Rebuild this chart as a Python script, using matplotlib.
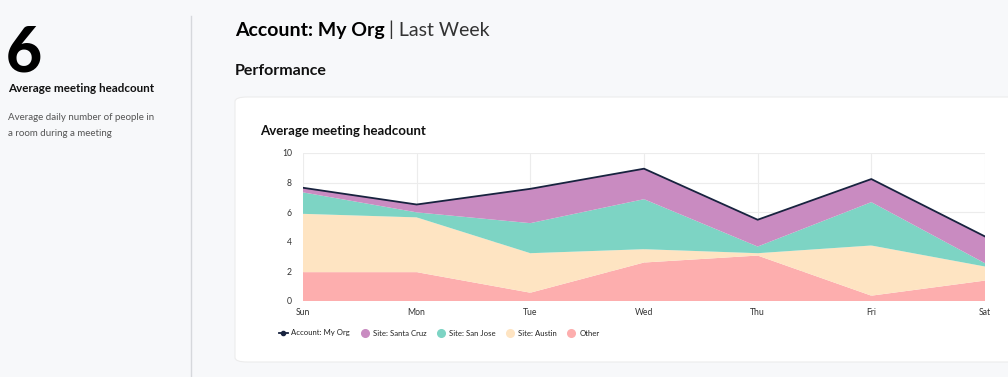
import matplotlib
matplotlib.use('Agg')
import matplotlib.pyplot as plt
from matplotlib.patches import FancyBboxPatch
from matplotlib.lines import Line2D

W, H = 1008, 377

days = ['Sun', 'Mon', 'Tue', 'Wed', 'Thu', 'Fri', 'Sat']
other = [1.95, 1.95, 0.56, 2.60, 3.07, 0.36, 1.38]
austin = [3.94, 3.70, 2.67, 0.90, 0.16, 3.39, 0.95]
san_jose = [1.45, 0.34, 2.03, 3.38, 0.45, 2.93, 0.22]
santa_cruz = [0.31, 0.54, 2.32, 2.06, 1.81, 1.56, 1.81]
account_total = [7.65, 6.52, 7.58, 8.94, 5.49, 8.24, 4.36]

c_other = '#fdaeae'
c_austin = '#fee4c2'
c_sanjose = '#7dd4c4'
c_santacruz = '#c98bc1'
c_account = '#18233f'

plt.rcParams['font.family'] = ['Lato', 'DejaVu Sans']


def fx(px):
    return px / W


def fy(py):
    return 1 - py / H


fig = plt.figure(figsize=(W / 100, H / 100), dpi=100)
fig.patch.set_facecolor('#f7f8fa')

# left summary panel
fig.text(fx(6), fy(72), '6', fontsize=45, fontweight='black', color='#000000')
fig.text(fx(8), fy(92), 'Average meeting headcount', fontsize=8.4,
         fontweight='bold', color='#111111')
fig.text(fx(8), fy(120), 'Average daily number of people in', fontsize=7,
         color='#555555')
fig.text(fx(8), fy(136), 'a room during a meeting', fontsize=7,
         color='#555555')
fig.add_artist(Line2D([fx(191), fx(191)], [fy(16), fy(377)],
                      color='#d6d8dc', lw=1))

# header
t = fig.text(fx(235), fy(36), 'Account: My Org', fontsize=14,
             fontweight='bold', color='#000000')
fig.canvas.draw()
bb = t.get_window_extent()
fig.text(bb.x1 / W + fx(4), fy(36), '| Last Week', fontsize=14,
         fontweight='normal', color='#333333')
fig.text(fx(235), fy(75), 'Performance', fontsize=11.5, fontweight='bold',
         color='#111111')

# card
card = FancyBboxPatch((fx(235), fy(362)), fx(800), fy(97) - fy(362),
                      boxstyle='round,pad=0,rounding_size=0.012',
                      transform=fig.transFigure, facecolor='white',
                      edgecolor='#ececec', lw=0.8, zorder=0)
fig.add_artist(card)
fig.text(fx(260), fy(135), 'Average meeting headcount', fontsize=9.5,
         fontweight='bold', color='#111111')

ax = fig.add_axes([fx(303), fy(301), fx(985 - 303), fy(153) - fy(301)])
ax.set_facecolor('white')
x = range(len(days))
ax.stackplot(x, other, austin, san_jose, santa_cruz,
             colors=[c_other, c_austin, c_sanjose, c_santacruz], lw=0, zorder=2)
ax.plot(x, account_total, color=c_account, lw=1.3, zorder=3)

ax.set_xlim(0, 6)
ax.set_ylim(0, 10)
ax.set_xticks(list(x))
ax.set_xticklabels(days)
ax.set_yticks([0, 2, 4, 6, 8, 10])
ax.grid(True, color='#ececec', lw=0.8, zorder=0)
ax.set_axisbelow(True)
for s in ax.spines.values():
    s.set_visible(False)
ax.tick_params(length=0, labelsize=6.2, colors='#333333', pad=5)
ax.tick_params(axis='y', pad=8)

handles = [
    Line2D([], [], color=c_account, lw=1.3, marker='o', markersize=3),
    Line2D([], [], color=c_santacruz, lw=0, marker='o', markersize=5.5),
    Line2D([], [], color=c_sanjose, lw=0, marker='o', markersize=5.5),
    Line2D([], [], color=c_austin, lw=0, marker='o', markersize=5.5),
    Line2D([], [], color=c_other, lw=0, marker='o', markersize=5.5),
]
labels = ['Account: My Org', 'Site: Santa Cruz', 'Site: San Jose',
          'Site: Austin', 'Other']
fig.legend(handles, labels, loc='center left', bbox_to_anchor=(fx(272), fy(333)),
           ncol=5, frameon=False, fontsize=5.6, handlelength=1.1,
           handletextpad=0.5, columnspacing=1.3, labelcolor='#222222')

fig.savefig('out.png', dpi=100, facecolor=fig.get_facecolor())
